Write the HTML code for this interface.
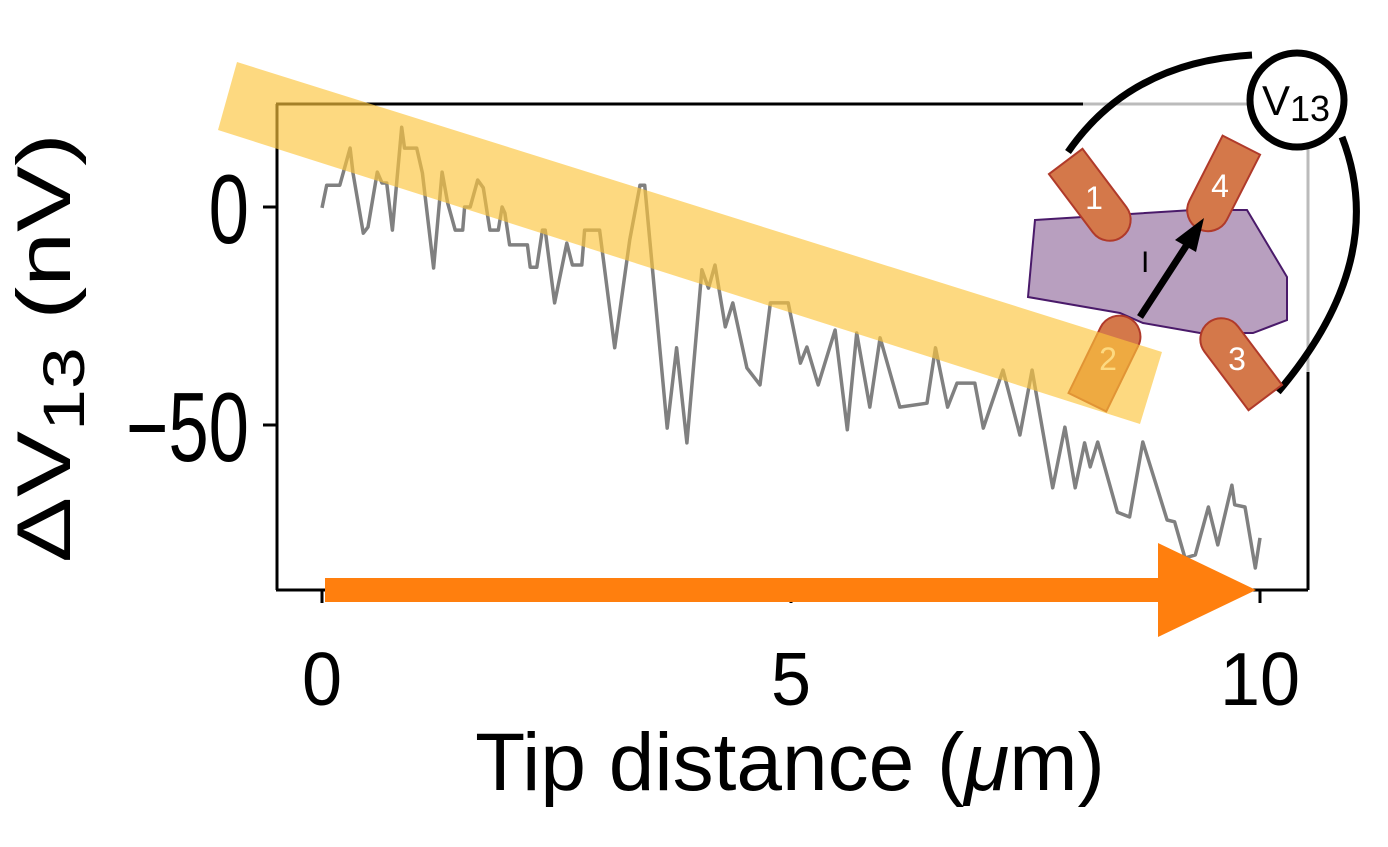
<!DOCTYPE html>
<html><head><meta charset="utf-8"><style>
html,body{margin:0;padding:0;background:#fff;}
svg{display:block;font-family:"Liberation Sans","DejaVu Sans",sans-serif;}
</style></head><body>
<svg id="chart" width="1388" height="847" viewBox="0 0 1388 847" xmlns="http://www.w3.org/2000/svg">
<g id="axes"></g>
<g id="series"></g>
<g id="diagram">
  <path d="M1068,152 Q1130,62 1252,55" fill="none" stroke="#000" stroke-width="7"/>
  <path d="M1342,137 Q1390,260 1278,392" fill="none" stroke="#000" stroke-width="7"/>
  <circle cx="1297" cy="100" r="47" fill="#fff" stroke="#000" stroke-width="7"/>
  <text x="1262" y="115" font-size="42" fill="#000">V<tspan font-size="36" dy="6">13</tspan></text>
  <polygon points="1035,220 1193,210 1247,210 1287,277 1287,320 1253,333 1200,333 1143,323 1120,313 1028,297" fill="#b89fbf" stroke="#4a1a6a" stroke-width="2"/>
  <g transform="translate(1094,199) rotate(-37)"><path d="M-21,-47 H21 V26 A21,21 0 0 1 -21,26 Z" fill="#d4784a" stroke="#b03a2a" stroke-width="2"/><text x="0" y="10" font-size="32" fill="#fff" text-anchor="middle" transform="rotate(37)">1</text></g>
  <g transform="translate(1220,187) rotate(27)"><path d="M-21,-47 H21 V26 A21,21 0 0 1 -21,26 Z" fill="#d4784a" stroke="#b03a2a" stroke-width="2"/><text x="0" y="10" font-size="32" fill="#fff" text-anchor="middle" transform="rotate(-27)">4</text></g>
  <g transform="translate(1108,360) rotate(-154)"><path d="M-21,-47 H21 V26 A21,21 0 0 1 -21,26 Z" fill="#d4784a" stroke="#b03a2a" stroke-width="2"/><text x="0" y="10" font-size="32" fill="#fff" text-anchor="middle" transform="rotate(154)">2</text></g>
  <g transform="translate(1237,360) rotate(143)"><path d="M-21,-47 H21 V26 A21,21 0 0 1 -21,26 Z" fill="#d4784a" stroke="#b03a2a" stroke-width="2"/><text x="0" y="10" font-size="32" fill="#fff" text-anchor="middle" transform="rotate(-143)">3</text></g>
  <line x1="1140" y1="317" x2="1190" y2="240" stroke="#000" stroke-width="7"/>
  <polygon points="1204,218 1175,240 1196,252" fill="#000"/>
  <text x="1141" y="272" font-size="30" fill="#000">I</text>
</g>
<polygon points="237,62 1162,352 1140,424 218,130" fill="rgba(252,196,60,0.65)"/>
<g>
  <rect x="325" y="578" width="836" height="24" fill="#ff7f0e"/>
  <polygon points="1158,543 1256,590 1158,637" fill="#ff7f0e"/>
</g>
<g id="labels"></g>
</svg>
<script>
const xs = [0,0.05,0.19,0.30,0.33,0.44,0.49,0.59,0.64,0.69,0.75,0.85,0.88,1.01,1.07,1.19,1.28,1.34,1.42,1.50,1.52,1.58,1.66,1.72,1.79,1.88,1.92,1.95,2.00,2.19,2.22,2.29,2.35,2.38,2.48,2.61,2.67,2.77,2.80,2.96,3.12,3.28,3.39,3.44,3.68,3.78,3.89,4.05,4.12,4.19,4.30,4.38,4.53,4.67,4.78,4.97,5.10,5.17,5.29,5.47,5.60,5.70,5.84,5.95,6.16,6.45,6.54,6.67,6.77,6.96,7.05,7.26,7.44,7.57,7.79,7.92,8.03,8.13,8.19,8.27,8.48,8.61,8.75,8.91,9.01,9.09,9.20,9.31,9.45,9.55,9.70,9.73,9.84,9.95,10.0];
const ys = [-0.2,5.0,5.0,13.5,7.8,-6.0,-4.6,8.0,5.5,5.5,-5.3,18.3,13.5,13.5,7.8,-14.0,8.0,0.9,-5.3,-5.3,0,0,6.2,4.4,-5.3,-5.3,0,-1.4,-8.7,-8.7,-13.8,-13.8,-5.3,-5.3,-22.0,-8.3,-13.3,-13.3,-5.3,-5.3,-32.3,-7.6,5.0,5.0,-50.7,-32.3,-54.1,-14.4,-18.6,-13.3,-27.5,-22.0,-36.9,-40.8,-22.0,-22.0,-35.8,-32.1,-40.8,-28.2,-51.1,-28.9,-45.9,-30.0,-45.9,-45.0,-32.3,-45.9,-40.4,-40.4,-50.7,-37.4,-52.3,-37.4,-64.4,-50.5,-64.4,-54.1,-59.6,-53.9,-70.0,-71.1,-53.9,-64.9,-71.8,-72.2,-80.5,-79.8,-68.8,-77.5,-63.8,-68.3,-68.8,-82.8,-75.9];
const xTicks = [0,5,10];
const xTickLabels = ["0","5","10"];
const yTicks = [0,-50];
const yTickLabels = ["0","\u221250"];

const NS = "http://www.w3.org/2000/svg";
const L=277,R=1308,T=104,B=590;
function sx(v){return 322 + v*93.8;}
function sy(v){return 207 - v*4.36;}
function mk(tag, attrs, parent){const e=document.createElementNS(NS,tag);for(const k in attrs)e.setAttribute(k,attrs[k]);parent.appendChild(e);return e;}

const axes=document.getElementById('axes');
let e;
e=mk('line',{x1:L,y1:T,x2:L,y2:B,stroke:'#000','stroke-width':3},axes);


e=mk('line',{x1:L-1,y1:B,x2:R,y2:B,stroke:'#000','stroke-width':3},axes);


e=mk('line',{x1:L-1,y1:T,x2:1083,y2:T,stroke:'#000','stroke-width':3},axes);


e=mk('line',{x1:1083,y1:T,x2:R,y2:T,stroke:'#bbb','stroke-width':3},axes);


e=mk('line',{x1:R,y1:T,x2:R,y2:372,stroke:'#bbb','stroke-width':3},axes);


e=mk('line',{x1:R,y1:372,x2:R,y2:B,stroke:'#000','stroke-width':3},axes);



const labels=document.getElementById('labels');
xTicks.forEach((v,i)=>{
  e=mk('line',{x1:sx(v),y1:B,x2:sx(v),y2:B+13,stroke:'#000','stroke-width':3},axes);
  
  
  e=mk('text',{x:0,y:0,'font-size':72,'text-anchor':'middle',fill:'#000',transform:'translate('+sx(v)+',705) scale(1,1.05)'},labels);
  e.textContent=xTickLabels[i];
  
  
});
yTicks.forEach((v,i)=>{
  e=mk('line',{x1:L-14,y1:sy(v),x2:L,y2:sy(v),stroke:'#000','stroke-width':3},axes);
  
  
  e=mk('text',{x:0,y:0,'font-size':98,'text-anchor':'end',fill:'#000',transform:'translate(249,'+(sy(v)+36)+') scale(0.74,1)'},labels);
  e.textContent=yTickLabels[i];
  
  
});
e=mk('text',{x:790,y:790,'font-size':82,'text-anchor':'middle',fill:'#000'},labels);
e.innerHTML='Tip distance (<tspan font-style="italic">\u03bc</tspan>m)';


e=mk('text',{x:0,y:0,'font-size':76,'text-anchor':'middle',fill:'#000',transform:'translate(70,348) rotate(-90) scale(1.3,1)'},labels);
e.innerHTML='\u0394V<tspan font-size="58" dy="14">13</tspan><tspan dy="-14"> (nV)</tspan>';



const series=document.getElementById('series');
const d=xs.map((x,i)=>(i?'L':'M')+sx(x).toFixed(1)+','+sy(ys[i]).toFixed(1)).join(' ');
e=mk('path',{d:d,fill:'none',stroke:'#808080','stroke-width':3.5,'stroke-linejoin':'round'},series);


</script>
</body></html>
